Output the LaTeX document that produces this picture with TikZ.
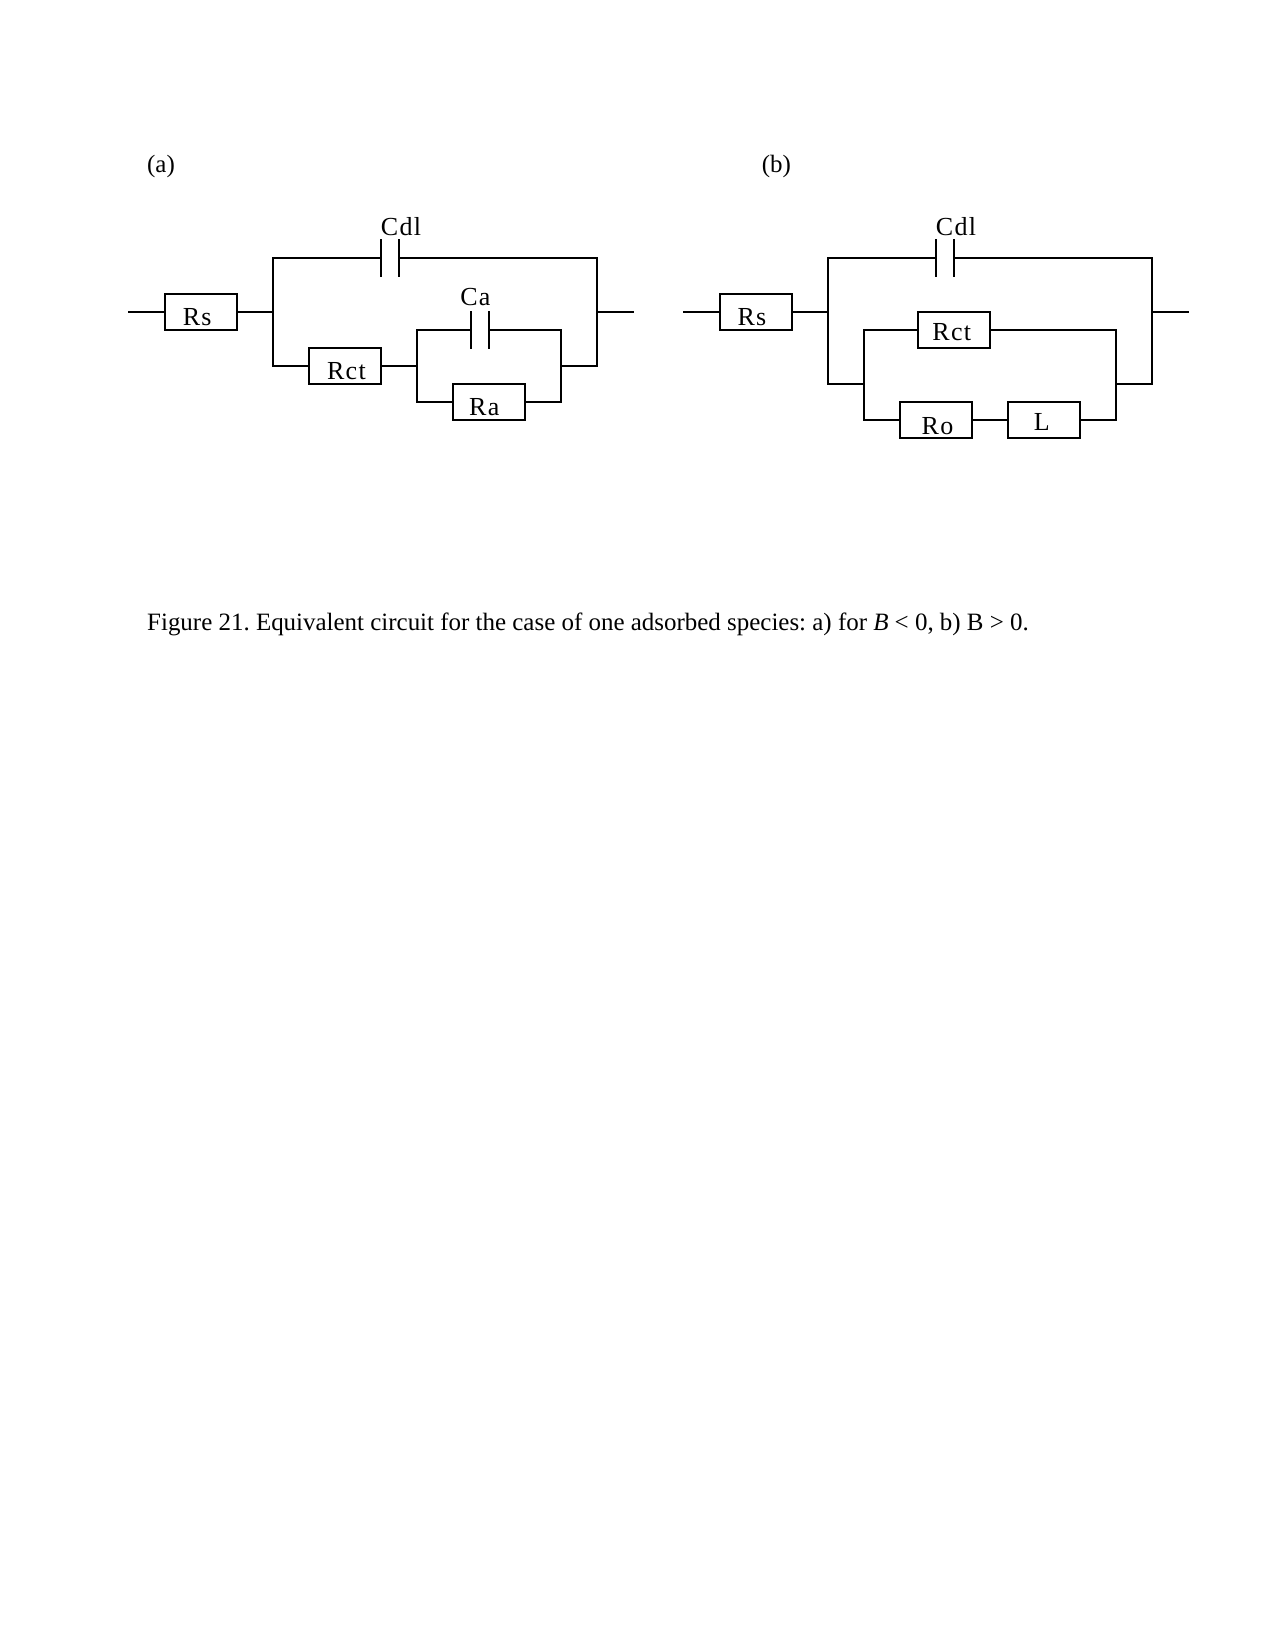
\documentclass[tikz,border=0pt]{standalone}
\usepackage{fontspec}
\setmainfont{Liberation Serif}
\newfontfamily\lab[LetterSpace=5]{Liberation Serif}
\tikzset{
  x=1pt,y=-1pt,
  wire/.style={line width=2pt,line cap=butt,line join=miter},
  res/.style={draw,line width=2pt,rectangle,minimum width=72pt,minimum height=36pt,inner sep=0pt,outer sep=0pt},
  lbl/.style={anchor=base,inner sep=0pt,font=\fontsize{26}{26}\selectfont\lab},
  captxt/.style={anchor=base,inner sep=0pt,font=\fontsize{24.95}{26}\selectfont\frenchspacing}
}
\begin{document}
\begin{tikzpicture}
\useasboundingbox[fill=white] (0,0) rectangle (1275,1651);
\node[captxt] (tA) at (161,172.7) {(a)};
\node[captxt] (tB) at (776.4,172.7) {(b)};
\node[captxt,anchor=base west] (caption) at (147,630) {Figure 21. Equivalent circuit for the case of one adsorbed species: a) for \textit{B} < 0, b) B > 0.};

% circuit (a)
\node[res] (RsA) at (201,312) {};
\node[res] (RctA) at (345,366) {};
\node[res] (RaA) at (489,402) {};
\coordinate (inA) at (128,312);
\coordinate (outA) at (634,312);
\coordinate (jLA) at (273,312);
\coordinate (jRA) at (597,312);
\coordinate (topLA) at (273,258);
\coordinate (topRA) at (597,258);
\coordinate (c1tA) at (381,239);
\coordinate (c1bA) at (381,277);
\coordinate (c2tA) at (399,239);
\coordinate (c2bA) at (399,277);
\coordinate (c1mA) at (381,258);
\coordinate (c2mA) at (399,258);
\coordinate (jInA) at (417,366);
\coordinate (jOutA) at (561,366);
\coordinate (c3tA) at (471,311);
\coordinate (c3bA) at (471,349);
\coordinate (c4tA) at (489,311);
\coordinate (c4bA) at (489,349);
\coordinate (c3mA) at (471,330);
\coordinate (c4mA) at (489,330);
\coordinate (botRA) at (597,366);
\draw[wire] (inA) -- (RsA.west);
\draw[wire] (RsA.east) -- (jLA);
\draw[wire] (c1mA) -- (topLA) -- (RctA.west -| topLA) -- (RctA.west);
\draw[wire] (c2mA) -- (topRA) -- (botRA) -- (jOutA);
\draw[wire] (jRA) -- (outA);
\draw[wire] (c1tA) -- (c1bA);
\draw[wire] (c2tA) -- (c2bA);
\draw[wire] (RctA.east) -- (jInA);
\draw[wire] (c3mA) -| (jInA) |- (RaA.west);
\draw[wire] (c4mA) -| (jOutA) |- (RaA.east);
\draw[wire] (c3tA) -- (c3bA);
\draw[wire] (c4tA) -- (c4bA);
\node[lbl] (lRsA) at (197.2,325.7) {Rs};
\node[lbl] (lCdlA) at (401,235.3) {Cdl};
\node[lbl] (lCaA) at (475.4,305) {Ca};
\node[lbl] (lRctA) at (346.4,379.7) {Rct};
\node[lbl] (lRaA) at (484.3,415.5) {Ra};

% circuit (b)
\node[res] (RsB) at (756,312) {};
\node[res] (RctB) at (954,330) {};
\node[res] (RoB) at (936,420) {};
\node[res] (LB) at (1044,420) {};
\coordinate (inB) at (683,312);
\coordinate (outB) at (1189,312);
\coordinate (jLB) at (828,312);
\coordinate (jRB) at (1152,312);
\coordinate (topLB) at (828,258);
\coordinate (topRB) at (1152,258);
\coordinate (c1tB) at (936,239);
\coordinate (c1bB) at (936,277);
\coordinate (c2tB) at (954,239);
\coordinate (c2bB) at (954,277);
\coordinate (c1mB) at (936,258);
\coordinate (c2mB) at (954,258);
\coordinate (botLB) at (828,384);
\coordinate (botRB) at (1152,384);
\coordinate (jInB) at (864,384);
\coordinate (jOutB) at (1116,384);
\draw[wire] (inB) -- (RsB.west);
\draw[wire] (RsB.east) -- (jLB);
\draw[wire] (c1mB) -- (topLB) -- (botLB) -- (jInB);
\draw[wire] (c2mB) -- (topRB) -- (botRB) -- (jOutB);
\draw[wire] (jRB) -- (outB);
\draw[wire] (c1tB) -- (c1bB);
\draw[wire] (c2tB) -- (c2bB);
\draw[wire] (RctB.west) -| (jInB) |- (RoB.west);
\draw[wire] (RctB.east) -| (jOutB) |- (LB.east);
\draw[wire] (RoB.east) -- (LB.west);
\node[lbl] (lRsB) at (752,325.7) {Rs};
\node[lbl] (lCdlB) at (956,235.3) {Cdl};
\node[lbl] (lRctB) at (951.8,340) {Rct};
\node[lbl] (lRoB) at (937.5,434) {Ro};
\node[lbl] (lLB) at (1041.8,430.7) {L};
\end{tikzpicture}
\end{document}
